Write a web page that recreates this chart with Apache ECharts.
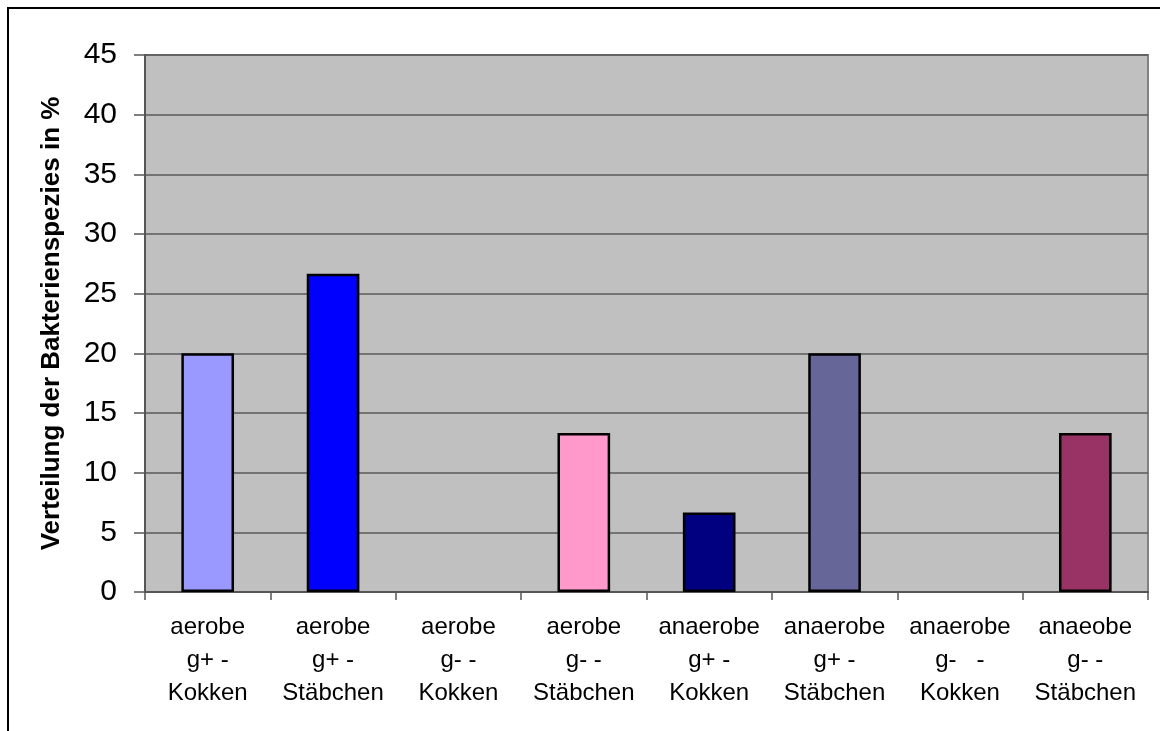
<!DOCTYPE html>
<html>
<head>
<meta charset="utf-8">
<script src="https://cdn.jsdelivr.net/npm/echarts@6/dist/echarts.min.js"></script>
<style>
html,body{margin:0;padding:0;background:#fff;}
#c{width:1160px;height:731px;}
</style>
</head>
<body>
<div id="c"></div>
<script>
const categories = [
  "aerobe\ng+ -\nKokken",
  "aerobe\ng+ -\nStäbchen",
  "aerobe\ng- -\nKokken",
  "aerobe\ng- -\nStäbchen",
  "anaerobe\ng+ -\nKokken",
  "anaerobe\ng+ -\nStäbchen",
  "anaerobe\ng-   -\nKokken",
  "anaeobe\ng- -\nStäbchen"
];
const values = [20, 26.67, 0, 13.33, 6.67, 20, 0, 13.33];
const barColors = ["#9999FF", "#0000FF", "#C0C0C0", "#FF99CC", "#000080", "#666699", "#C0C0C0", "#993366"];
const yTicks = { min: 0, max: 45, interval: 5 };
const yTitle = "Verteilung der Bakterienspezies in %";

const chart = echarts.init(document.getElementById('c'));
const font = 'Liberation Sans, Arial, sans-serif';
chart.setOption({
  animation: false,
  backgroundColor: '#ffffff',
  graphic: [{
    type: 'rect',
    shape: { x: 8, y: 8, width: 1300, height: 900 },
    style: { fill: 'none', stroke: '#000', lineWidth: 2 },
    silent: true
  }],
  grid: {
    left: 145, top: 55, right: 12, bottom: 139,
    show: true, backgroundColor: '#C0C0C0', borderColor: '#808080', borderWidth: 2
  },
  xAxis: {
    type: 'category',
    data: categories,
    axisLine: { lineStyle: { color: '#555', width: 2 } },
    axisTick: { show: true, length: 8, alignWithLabel: false, lineStyle: { color: '#555', width: 1.5 } },
    axisLabel: {
      interval: 0, margin: 19, color: '#000', fontFamily: font, fontSize: 24, lineHeight: 33
    }
  },
  yAxis: {
    type: 'value',
    min: yTicks.min, max: yTicks.max, interval: yTicks.interval,
    name: yTitle,
    nameLocation: 'middle',
    nameGap: 80,
    nameTextStyle: { fontFamily: font, fontSize: 26, fontWeight: 'bold', color: '#000' },
    axisLine: { show: true, lineStyle: { color: '#555', width: 2 } },
    axisTick: { show: true, length: 11, lineStyle: { color: '#555', width: 1.5 } },
    axisLabel: { margin: 28, color: '#000', fontFamily: font, fontSize: 30 },
    splitLine: { show: true, lineStyle: { color: '#5a5a5a', width: 1.5 } }
  },
  series: [{
    type: 'bar',
    barWidth: '42%',
    data: values.map((v, i) => ({
      value: v,
      itemStyle: { color: barColors[i], borderColor: '#000', borderWidth: v === 0 ? 0 : 2.5 }
    }))
  }]
});
</script>
</body>
</html>
